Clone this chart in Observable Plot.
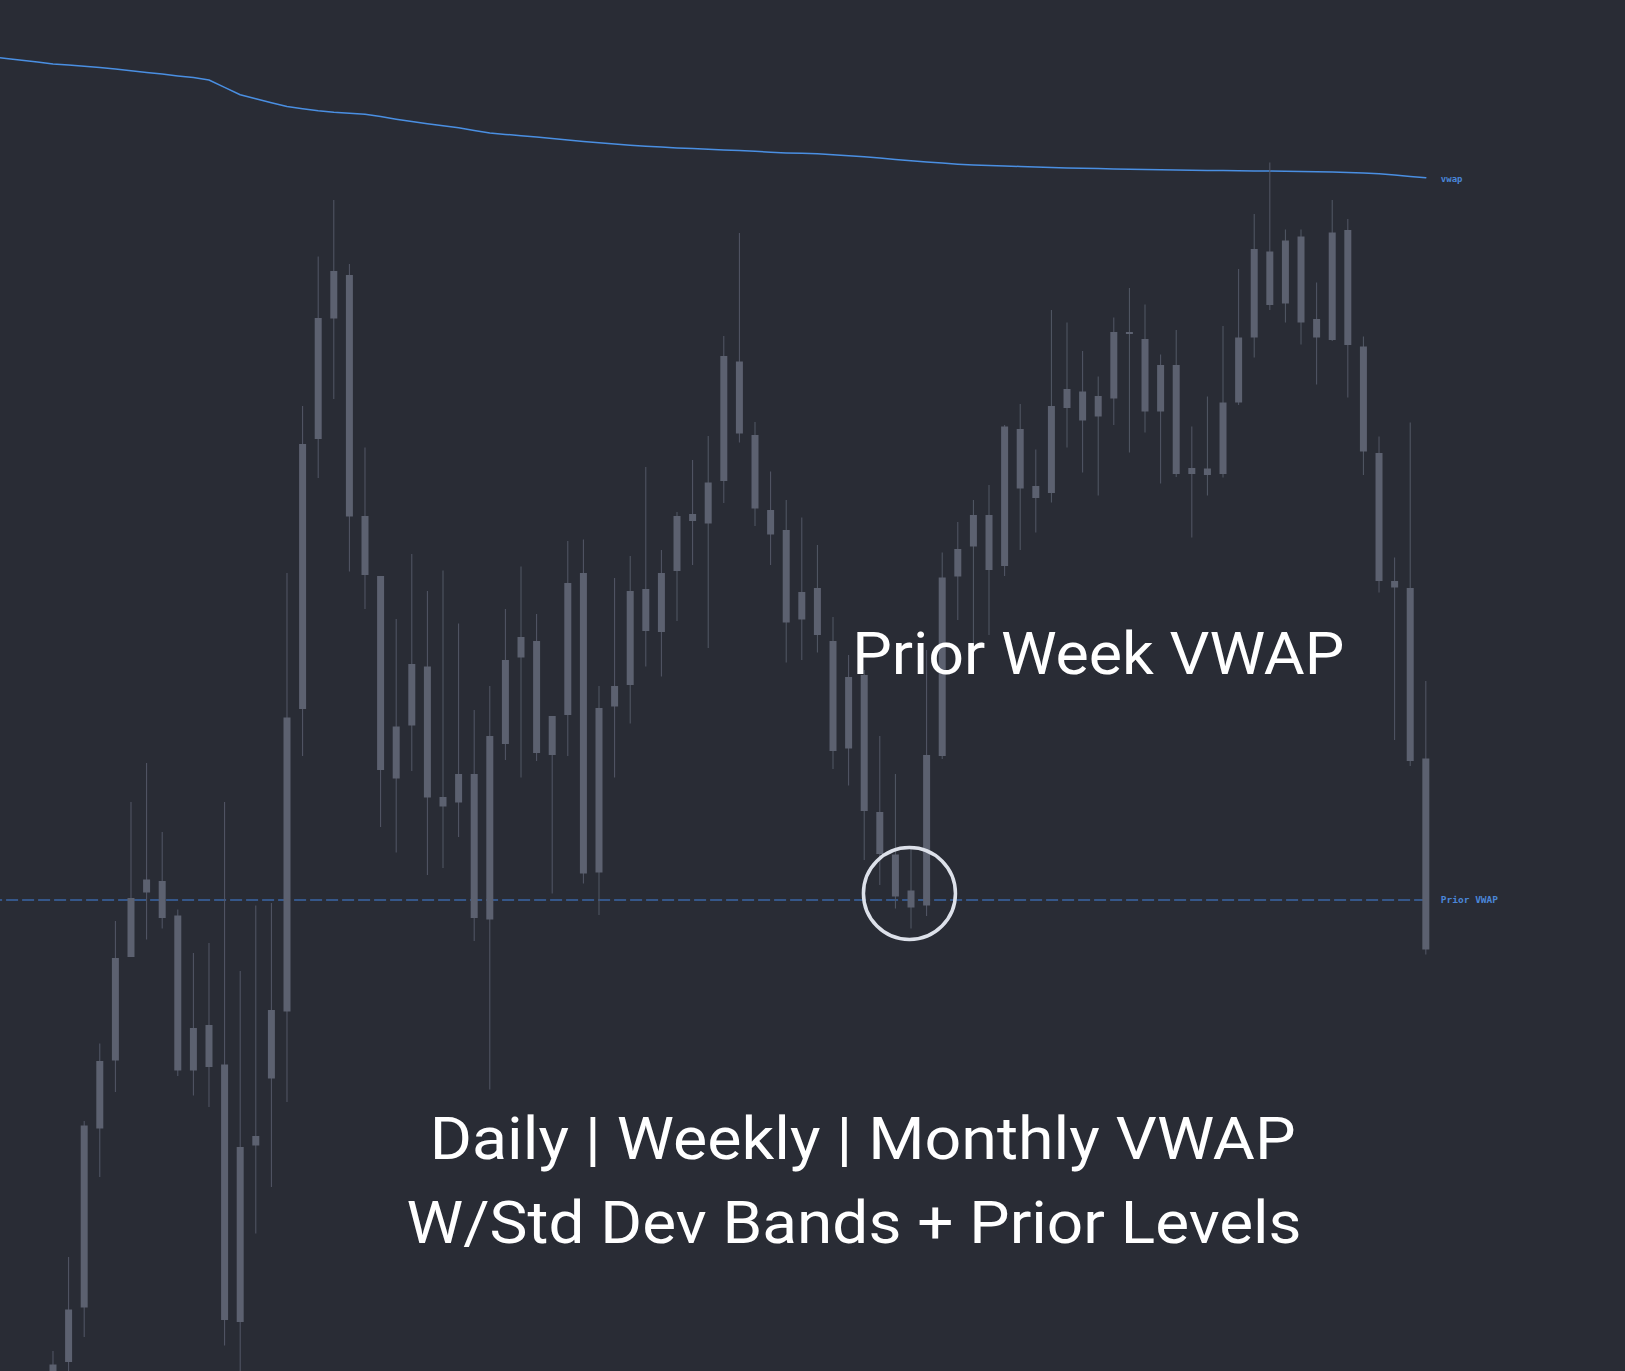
<!DOCTYPE html>
<html><head><meta charset="utf-8">
<script src="https://cdn.jsdelivr.net/npm/d3@7"></script>
<script src="https://cdn.jsdelivr.net/npm/@observablehq/plot@0.6"></script>
<style>
html,body{margin:0;padding:0;background:#292c35;overflow:hidden}
#chart svg{display:block}
</style></head><body><div id="chart"></div>
<script>
// ---- data (bar index, prices) ----
const open = [4461.5,4463.8,4469.25,4487.15,4493.95,4504.3,4510.75,4511.9,4508.45,4492.95,
4497.5,4493.55,4467.8,4485.45,4492.15,4498.85,4529.1,4556.1,4568.15,4572.5,
4548.4,4542.4,4522.15,4527.45,4533.35,4520.3,4519.75,4522.6,4508.05,4525.6,
4534.25,4535.9,4524.5,4528.5,4542.7,4512.75,4529.35,4531.5,4541.1,4536.8,
4542.9,4547.9,4547.65,4551.9,4563.85,4556.5,4549,4547,4538.05,4541.2,
4535.9,4525.15,4532.5,4518.8,4514.55,4510.95,4509.45,4524.4,4542.35,4545.35,
4548.5,4543.4,4557.1,4551.4,4550.7,4559.2,4560.85,4558.35,4560.15,4566.6,
4566.1,4558.85,4563.5,4552.6,4553.15,4552.6,4559.75,4566.25,4574.85,4569.65,
4576.35,4568.1,4566,4577,4565.35,4554.7,4541.9,4541.2,4524.15];
const close = [4463.55,4469.05,4487.45,4493.9,4504.2,4510.2,4512.05,4508.2,4492.95,4497.2,
4493.3,4468,4485.3,4486.4,4499,4528.25,4555.6,4568.2,4572.9,4548.35,
4542.5,4523,4527.35,4533.6,4520.25,4519.35,4522.6,4508.2,4526.4,4534,
4536.3,4524.7,4528.4,4541.7,4512.65,4529.2,4531.4,4540.9,4536.9,4542.7,
4548.4,4548.6,4551.75,4564.4,4556.65,4549.15,4546.55,4537.75,4540.8,4536.5,
4524.9,4532.3,4518.9,4514.6,4510.35,4509.25,4524.5,4542.25,4545.1,4548.5,
4543,4557.35,4551.15,4550.2,4559.4,4561.1,4557.95,4560.4,4566.8,4566.8,
4558.85,4563.5,4552.6,4553.2,4552.5,4559.75,4566.25,4575.1,4569.5,4575.95,
4567.75,4566.25,4576.75,4565.5,4554.85,4541.9,4541.25,4523.9,4505.05];
const high = [4464.9,4474.3,4487.9,4495.65,4507.9,4519.8,4523.7,4516.8,4509.05,4504.7,
4505.7,4519.8,4502.9,4509.45,4509.7,4542.7,4559.4,4574.35,4580,4573.6,
4555.25,4542.4,4538.1,4544.6,4540.9,4542.95,4537.65,4529,4531.4,4539.1,
4543.35,4538.6,4528.4,4545.9,4546.05,4531.4,4542.2,4544.4,4553.3,4545,
4548.8,4554,4556.4,4566.4,4576.7,4557.8,4552.85,4550,4548.25,4545.5,
4538.3,4534.5,4533,4526.4,4522.6,4515.1,4535,4544.75,4547.8,4550,
4551.5,4557.5,4559.6,4555.05,4569,4567.75,4564.9,4562.35,4568.25,4571.2,
4569.55,4564.55,4567,4557.35,4560.35,4567.4,4573.1,4578.6,4583.75,4577.05,
4577.05,4571.75,4580,4578.1,4566.35,4556.35,4544.25,4557.75,4531.9];
const low = [4460.8,4462.2,4466.3,4482.3,4490.8,4504.3,4506.05,4507.15,4492.4,4490.45,
4489.3,4465.45,4462,4476.65,4481.3,4489.8,4524.4,4552.2,4560.1,4542.85,
4539.1,4517.3,4514.75,4522.9,4512.5,4513.2,4516.3,4505.9,4491.05,4524,
4522.25,4523.9,4510.65,4524.4,4511.65,4508.5,4522.25,4527.65,4533.35,4532.35,
4537.9,4543.5,4535.2,4549.7,4555.75,4547.4,4543.5,4533.75,4534,4534.75,
4523.1,4521.45,4514,4511.5,4509.15,4507.15,4508.4,4524.1,4538,4535.5,
4536.5,4542.4,4545,4546.75,4549.75,4555.25,4552.75,4550.45,4557.5,4554.75,
4556.75,4551.65,4552.3,4546.25,4550.45,4552.25,4559.5,4564.25,4569,4567.75,
4565.55,4561.55,4565.9,4560.25,4552.5,4540.75,4526,4523.4,4504.55];

// session VWAP, one value per bar starting at bar index -4
const vwapStart = -4;
const vwap = [4594.39,4594.2,4594.02,4593.84,
4593.66,4593.54,4593.42,4593.29,4593.14,4592.97,4592.8,4592.64,4592.46,4592.29,
4592.05,4591.31,4590.57,4590.17,4589.78,4589.39,4589.18,4588.98,4588.82,4588.72,
4588.62,4588.39,4588.13,4587.89,4587.68,4587.48,4587.28,4587.01,4586.74,4586.61,
4586.48,4586.35,4586.2,4586.05,4585.9,4585.78,4585.66,4585.53,4585.43,4585.35,
4585.26,4585.19,4585.12,4585.06,4585.0,4584.92,4584.83,4584.76,4584.72,4584.68,
4584.58,4584.47,4584.37,4584.24,4584.11,4583.98,4583.86,4583.74,4583.63,4583.55,
4583.5,4583.45,4583.4,4583.35,4583.3,4583.26,4583.22,4583.19,4583.16,4583.13,
4583.1,4583.07,4583.04,4583.02,4583.01,4582.99,4582.97,4582.96,4582.94,4582.92,
4582.91,4582.88,4582.84,4582.79,4582.74,4582.67,4582.55,4582.41,4582.27];

const priorVwap = 4510.05;
const highlight = {i: 54.9, price: 4510.7};
const annotationTexts = ["Prior Week VWAP", "Daily | Weekly | Monthly VWAP", "W/Std Dev Bands + Prior Levels"];
const annotationBar = [67.0, 51.9, 51.35];
const annotationPrice = [4532.65, 4484.15, 4475.8];

// ---- derived tables ----
const candles = open.map((o, i) => ({i, open: o, close: close[i], high: high[i], low: low[i]}));
const vwapData = vwap.map((v, k) => ({i: vwapStart + k, v}));
const lastBar = candles.length - 1;
const annotations = annotationTexts.map((t, k) => ({text: t, i: annotationBar[k], price: annotationPrice[k]}));

// ---- styles ----
const BG = "#292c35";
const textWidths = {"Prior Week VWAP": 492, "Daily | Weekly | Monthly VWAP": 866, "W/Std Dev Bands + Prior Levels": 895};

const chart = Plot.plot({
  width: 1625,
  height: 1371,
  margin: 0,
  style: {background: BG},
  x: {domain: [-3.365, 100.8], axis: null},
  y: {domain: [4462.9, 4600], axis: null},
  marks: [
    Plot.ruleY([priorVwap], {x1: vwapStart, x2: lastBar, stroke: "#4282e0", strokeWidth: 1, strokeDasharray: "12,4", clip: true}),
    Plot.line(vwapData, {x: "i", y: "v", curve: "linear", stroke: "#4a8fe2", strokeWidth: 1.5, clip: true}),
    Plot.ruleX(candles, {x: "i", y1: "low", y2: "high", stroke: "#535867", strokeWidth: 1, clip: true}),
    Plot.ruleX(candles, {x: "i", y1: "open", y2: "close", stroke: "#5c6170", strokeWidth: 7, clip: true}),
    Plot.dot([highlight], {x: "i", y: "price", r: 46, stroke: "#dde1ea", strokeWidth: 3.5, fill: "none"}),
    Plot.text([{i: lastBar, v: vwap[vwap.length - 1]}], {x: "i", y: "v", text: () => "vwap", dx: 15, dy: 1, textAnchor: "start", fontFamily: "DejaVu Sans Mono", fontSize: 9, fontWeight: "bold", fill: "#4a86d8"}),
    Plot.text([{i: lastBar, v: priorVwap}], {x: "i", y: "v", text: () => "Prior VWAP", dx: 15, textAnchor: "start", fontFamily: "DejaVu Sans Mono", fontSize: 9.5, fontWeight: "bold", fill: "#4a86d8"}),
    Plot.text(annotations, {x: "i", y: "price", text: "text", lineAnchor: "bottom", textAnchor: "middle", fontFamily: "Roboto", fontSize: 60, fill: "#ffffff"})
  ]
});

d3.select(chart).selectAll("text").each(function () {
  const t = this.textContent;
  if (textWidths[t]) {
    d3.select(this).attr("textLength", textWidths[t]).attr("lengthAdjust", "spacingAndGlyphs");
  }
});

document.getElementById("chart").appendChild(chart);
</script></body></html>
